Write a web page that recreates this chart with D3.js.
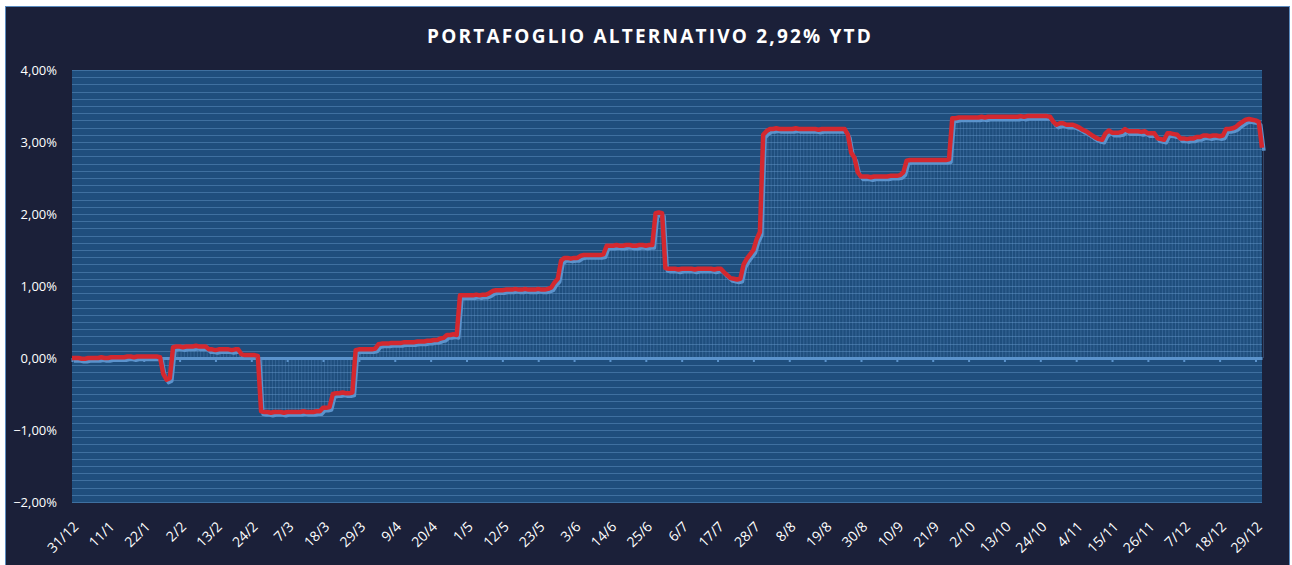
<!DOCTYPE html>
<html lang="it">
  <head>
    <meta charset="utf-8">
    <title>Portafoglio Alternativo</title>
    <script src="https://d3js.org/d3.v7.min.js"></script>
    <style>
      body { margin: 0; background: #ffffff; }
      text { font-family: "Open Sans", sans-serif; fill: #ffffff; }
    </style>
  </head>
  <body>
    <div id="chart"></div>
    <script type="text/javascript">
      const title = "PORTAFOGLIO ALTERNATIVO 2,92% YTD";
      const startDate = "31/12/2022";

      // daily performance YTD (%), one array per month, first point is 31/12
      const dec0 = [0.00];
      const jan = [0.00, 0.00, -0.01, -0.01, 0.00, 0.00, 0.00, 0.00, 0.01, 0.00,
                   0.00, 0.01, 0.01, 0.01, 0.01, 0.01, 0.02, 0.02, 0.01, 0.02,
                   0.02, 0.02, 0.02, 0.02, 0.02, 0.02, 0.01, -0.22, -0.30, -0.28, 0.15];
      const feb = [0.16, 0.16, 0.15, 0.16, 0.16, 0.16, 0.17, 0.16, 0.16, 0.16,
                   0.12, 0.12, 0.11, 0.12, 0.12, 0.12, 0.12, 0.11, 0.12, 0.12,
                   0.05, 0.04, 0.04, 0.04, 0.04, 0.03, -0.74, -0.75];
      const mar = [-0.75, -0.76, -0.75, -0.75, -0.75, -0.76, -0.75, -0.75, -0.75, -0.75,
                   -0.75, -0.74, -0.75, -0.75, -0.75, -0.74, -0.74, -0.69, -0.69, -0.68,
                   -0.50, -0.49, -0.49, -0.48, -0.49, -0.49, -0.48, 0.11, 0.12, 0.12, 0.12];
      const apr = [0.12, 0.12, 0.13, 0.19, 0.20, 0.20, 0.20, 0.21, 0.21, 0.21,
                   0.21, 0.22, 0.22, 0.22, 0.22, 0.23, 0.23, 0.23, 0.24, 0.24,
                   0.25, 0.25, 0.27, 0.28, 0.32, 0.32, 0.33, 0.32, 0.87, 0.87];
      const may = [0.87, 0.87, 0.87, 0.88, 0.87, 0.88, 0.88, 0.90, 0.93, 0.94,
                   0.94, 0.94, 0.95, 0.95, 0.95, 0.96, 0.95, 0.95, 0.96, 0.95,
                   0.95, 0.95, 0.96, 0.95, 0.95, 0.96, 0.98, 1.05, 1.10, 1.35, 1.39];
      const jun = [1.39, 1.38, 1.39, 1.39, 1.42, 1.43, 1.43, 1.43, 1.43, 1.43,
                   1.43, 1.44, 1.56, 1.56, 1.56, 1.57, 1.56, 1.56, 1.57, 1.57,
                   1.56, 1.56, 1.57, 1.57, 1.56, 1.57, 1.57, 2.01, 2.02, 2.01];
      const jul = [1.25, 1.24, 1.24, 1.24, 1.23, 1.24, 1.24, 1.24, 1.24, 1.23,
                   1.24, 1.24, 1.24, 1.24, 1.24, 1.23, 1.24, 1.24, 1.19, 1.15,
                   1.11, 1.10, 1.09, 1.10, 1.30, 1.38, 1.44, 1.50, 1.65, 1.75, 3.10];
      const aug = [3.15, 3.18, 3.18, 3.19, 3.18, 3.18, 3.18, 3.18, 3.18, 3.19,
                   3.18, 3.18, 3.18, 3.18, 3.18, 3.18, 3.17, 3.18, 3.18, 3.18,
                   3.18, 3.18, 3.18, 3.18, 3.18, 3.10, 2.85, 2.78, 2.58, 2.52, 2.52];
      const sep = [2.52, 2.51, 2.52, 2.52, 2.52, 2.52, 2.52, 2.53, 2.53, 2.53,
                   2.54, 2.58, 2.74, 2.75, 2.75, 2.75, 2.75, 2.75, 2.75, 2.75,
                   2.75, 2.75, 2.75, 2.75, 2.75, 2.76, 3.33, 3.33, 3.34, 3.34];
      const oct = [3.34, 3.34, 3.34, 3.34, 3.34, 3.35, 3.34, 3.35, 3.35, 3.35,
                   3.35, 3.35, 3.35, 3.35, 3.35, 3.35, 3.35, 3.36, 3.35, 3.36,
                   3.36, 3.36, 3.36, 3.36, 3.36, 3.36, 3.35, 3.28, 3.24, 3.26, 3.26];
      const nov = [3.24, 3.24, 3.24, 3.22, 3.20, 3.17, 3.15, 3.12, 3.09, 3.06,
                   3.04, 3.03, 3.12, 3.16, 3.13, 3.13, 3.13, 3.14, 3.18, 3.15,
                   3.15, 3.15, 3.15, 3.14, 3.15, 3.12, 3.12, 3.12, 3.05, 3.04];
      const dec = [3.03, 3.12, 3.12, 3.11, 3.10, 3.05, 3.05, 3.04, 3.05, 3.05,
                   3.07, 3.07, 3.09, 3.09, 3.08, 3.09, 3.09, 3.08, 3.09, 3.18,
                   3.18, 3.19, 3.21, 3.25, 3.28, 3.31, 3.32, 3.31, 3.30, 3.28, 2.92];

      const xTickLabels = ["31/12", "11/1", "22/1", "2/2", "13/2", "24/2", "7/3", "18/3",
                           "29/3", "9/4", "20/4", "1/5", "12/5", "23/5", "3/6", "14/6",
                           "25/6", "6/7", "17/7", "28/7", "8/8", "19/8", "30/8", "10/9",
                           "21/9", "2/10", "13/10", "24/10", "4/11", "15/11", "26/11",
                           "7/12", "18/12", "29/12"];
      const yTicks = [-2, -1, 0, 1, 2, 3, 4];

      function drawChart() {
          let svgWidth = 1292,
              svgHeight = 565;

          let plot = { left: 72, top: 70, right: 1262, bottom: 502 },
              width = plot.right - plot.left,
              height = plot.bottom - plot.top;

          let parse = d3.utcParse("%d/%m/%Y");
          let start = parse(startDate);
          let values = [].concat(dec0, jan, feb, mar, apr, may, jun, jul, aug, sep, oct, nov, dec);
          let data = values.map((v, i) => ({ date: d3.utcDay.offset(start, i), value: v }));

          let tickDates = xTickLabels.map((s, i) => parse(s + (i === 0 ? "/2022" : "/2023")));

          let locale = d3.formatLocale({ decimal: ",", thousands: ".", grouping: [3], currency: ["€", ""] });
          let pct = locale.format(".2f");

          let svg = d3.select("#chart")
              .append("svg")
              .attr("width", svgWidth)
              .attr("height", svgHeight);

          // outer frame
          svg.append("rect")
              .attr("x", 5.5)
              .attr("y", 6.5)
              .attr("width", 1284)
              .attr("height", 570)
              .attr("fill", "#1b2039")
              .attr("stroke", "#5a8bbf")
              .attr("stroke-width", 1);

          svg.append("text")
              .attr("x", 650)
              .attr("y", 43)
              .attr("text-anchor", "middle")
              .style("font-size", "19px")
              .style("font-weight", "bold")
              .style("letter-spacing", "2.2px")
              .text(title);

          let x = d3.scaleUtc()
              .domain([data[0].date, data[data.length - 1].date])
              .range([0, width]);

          let y = d3.scaleLinear()
              .domain([-2, 4])
              .range([height, 0]);

          let g = svg.append("g")
              .attr("transform", "translate(" + plot.left + "," + plot.top + ")");

          g.append("rect")
              .attr("width", width)
              .attr("height", height)
              .attr("fill", "#1f4e7d");

          // 0.1% gridlines
          g.append("g")
              .selectAll("line")
              .data(y.ticks(60))
              .join("line")
              .attr("x1", 0)
              .attr("x2", width)
              .attr("y1", d => Math.round(y(d)) + 0.5)
              .attr("y2", d => Math.round(y(d)) + 0.5)
              .attr("stroke", "#3f70a0")
              .attr("stroke-width", 1);

          // y labels
          g.append("g")
              .selectAll("text")
              .data(yTicks)
              .join("text")
              .attr("x", -15)
              .attr("y", d => y(d))
              .attr("dy", "0.35em")
              .attr("text-anchor", "end")
              .style("font-size", "13px")
              .text(d => pct(d) + "%");

          // drop lines to the zero axis
          g.append("g")
              .selectAll("line")
              .data(data)
              .join("line")
              .attr("x1", d => x(d.date) + 1.5)
              .attr("x2", d => x(d.date) + 1.5)
              .attr("y1", y(0))
              .attr("y2", d => y(d.value) + 3)
              .attr("stroke", "#6fa3d6")
              .attr("stroke-width", 0.7)
              .attr("stroke-opacity", 0.4);

          // zero axis with ticks
          let axis = g.append("g")
              .attr("transform", "translate(0," + y(0) + ")")
              .call(d3.axisBottom(x).tickValues(tickDates).tickFormat("").tickSizeInner(4).tickSizeOuter(0));
          axis.select(".domain")
              .attr("stroke", "#5b93cc")
              .attr("stroke-width", 3);
          axis.selectAll(".tick line")
              .attr("stroke", "#5b93cc")
              .attr("stroke-width", 2);

          let line = d3.line()
              .x(d => x(d.date))
              .y(d => y(d.value));

          g.append("path")
              .datum(data)
              .attr("transform", "translate(2,3)")
              .attr("d", line)
              .attr("fill", "none")
              .attr("stroke", "#5b93cc")
              .attr("stroke-width", 3.5)
              .attr("stroke-linejoin", "round");

          g.append("path")
              .datum(data)
              .attr("d", line)
              .attr("fill", "none")
              .attr("stroke", "#d3282f")
              .attr("stroke-width", 4.5)
              .attr("stroke-linejoin", "round");

          // rotated date labels
          g.append("g")
              .selectAll("text")
              .data(tickDates)
              .join("text")
              .attr("transform", (d, i) => "translate(" + (x(d) + 4) + "," + (height + 22) + ") rotate(-45)")
              .attr("text-anchor", "end")
              .attr("dy", "0.35em")
              .style("font-size", "14px")
              .text((d, i) => xTickLabels[i]);
      }

      drawChart();
    </script>
  </body>
</html>
